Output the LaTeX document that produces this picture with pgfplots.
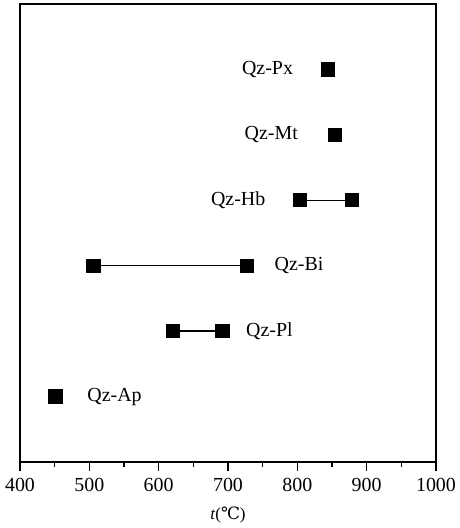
\documentclass[border=0pt]{standalone}
\usepackage{pgfplots}
\pgfplotsset{compat=1.18}
\usepackage{fontspec}
\setmainfont{Liberation Serif}
\newfontfamily\dejavu{DejaVu Serif}
\begin{document}
\begin{tikzpicture}
\begin{axis}[
  scale only axis,
  width=416bp, height=458bp,
  xmin=400, xmax=1000, ymin=0, ymax=7,
  xtick={400,500,...,1000},
  minor xtick={450,550,...,950},
  ytick=\empty,
  xtick pos=bottom,
  xtick align=outside,
  major tick length=9bp,
  minor tick length=5bp,
  every tick/.style={line width=1.2pt, black},
  axis line style={line width=1.2pt},
  /pgf/number format/assume math mode=true,
  /pgf/number format/set thousands separator={},
  tick label style={font=\fontsize{20}{20}\selectfont},
  xticklabel style={yshift=-4bp},
  xlabel={\textit{t}({\dejavu ℃})},
  xlabel style={font=\fontsize{17}{17}\selectfont, at={(axis description cs:0.5,0)}, anchor=center, yshift=-53bp},
  clip=false,
]
\addplot[black, line width=1.4pt, mark=square*, mark size=6.5bp, mark options={solid}] coordinates {(844,6)};
\addplot[black, line width=1.4pt, mark=square*, mark size=6.5bp] coordinates {(854,5)};
\addplot[black, line width=1.4pt, mark=square*, mark size=6.5bp] coordinates {(804,4) (879,4)};
\addplot[black, line width=1.4pt, mark=square*, mark size=6.5bp] coordinates {(506,3) (727,3)};
\addplot[black, line width=1.4pt, mark=square*, mark size=6.5bp] coordinates {(621,2) (692,2)};
\addplot[black, line width=1.4pt, mark=square*, mark size=6.5bp] coordinates {(451,1)};
\begin{scope}[every node/.style={font=\fontsize{20}{20}\selectfont, inner sep=0pt}]
\node[anchor=east] at (axis cs:794,6) {Qz-Px};
\node[anchor=east] at (axis cs:801,5) {Qz-Mt};
\node[anchor=east] at (axis cs:754,4) {Qz-Hb};
\node[anchor=west] at (axis cs:767,3) {Qz-Bi};
\node[anchor=west] at (axis cs:726,2) {Qz-Pl};
\node[anchor=west] at (axis cs:497,1) {Qz-Ap};
\end{scope}
\end{axis}
\path ([xshift=-20bp,yshift=-66bp]current axis.south west) rectangle ([xshift=20bp,yshift=4bp]current axis.north east);
\end{tikzpicture}
\end{document}
